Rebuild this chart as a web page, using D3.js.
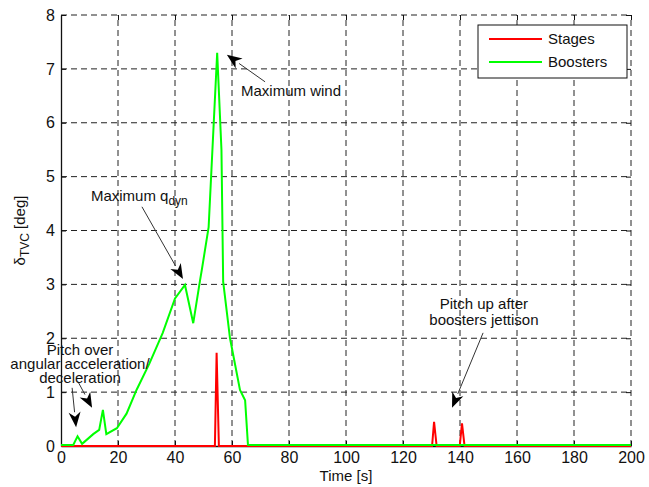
<!DOCTYPE html>
<html>
<head>
  <meta charset="utf-8"/>
  <script src="https://d3js.org/d3.v7.min.js"></script>
  <style>
    html, body { margin: 0; padding: 0; background: #fff; }
    svg { display: block; font-family: "Liberation Sans", Arial, sans-serif; }
    .grid line { stroke: #222; stroke-width: 1; stroke-dasharray: 6,4; }
    .tick-label { font-size: 16px; fill: #111; }
    .ann { font-size: 15px; fill: #111; }
  </style>
</head>
<body>
<div id="chart"></div>
<script>
// data (time in s, deflection in deg)
const boosterT = [0, 4.3, 5.8, 7.4, 11.3, 13.4, 14.7, 15.9, 19.6, 23, 26.5, 31, 35.7, 40, 43.5, 46.4, 48.8, 49.5, 51.8, 54.8, 56.3, 56.9, 59.3, 62.8, 64.6, 65.6, 200];
const boosterV = [0.02, 0.02, 0.18, 0.04, 0.22, 0.3, 0.67, 0.22, 0.33, 0.6, 1.04, 1.53, 2.1, 2.74, 2.99, 2.28, 3.08, 3.3, 4.06, 7.3, 5.5, 3.05, 2.0, 1.04, 0.85, 0.02, 0.02];

const stageT = [0, 54.0, 54.6, 55.4, 130.2, 130.9, 131.8, 139.9, 140.7, 141.6, 200];
const stageV = [0, 0, 1.73, 0, 0, 0.45, 0, 0, 0.42, 0, 0];

const xTicks = [0, 20, 40, 60, 80, 100, 120, 140, 160, 180, 200];
const yTicks = [0, 1, 2, 3, 4, 5, 6, 7, 8];

const seriesNames = ["Stages", "Boosters"];
const seriesColors = ["#ff0000", "#00ff00"];

// annotation arrows: [fromT, fromV, toT, toV]
const arrows = [
  [71.6, 6.76, 58.2, 7.26],
  [28.4, 4.44, 42.8, 3.10],
  [3.9, 1.08, 5.3, 0.35],
  [6.0, 1.19, 10.9, 0.71],
  [148.1, 2.10, 137.2, 0.71]
];

const width = 649, height = 487;
const margin = { left: 61, right: 18, top: 15, bottom: 41 };

const svg = d3.select("#chart").append("svg")
  .attr("width", width)
  .attr("height", height);

const x = d3.scaleLinear().domain([0, 200]).range([margin.left, width - margin.right]);
const y = d3.scaleLinear().domain([0, 8]).range([height - margin.bottom, margin.top]);

// dashed grid (also makes the top/right edges)
const grid = svg.append("g").attr("class", "grid");
grid.selectAll(".gx").data(xTicks.slice(1)).enter().append("line")
  .attr("x1", d => x(d)).attr("x2", d => x(d))
  .attr("y1", y(0)).attr("y2", y(8));
grid.selectAll(".gy").data(yTicks.slice(1)).enter().append("line")
  .attr("x1", x(0)).attr("x2", x(200))
  .attr("y1", d => y(d)).attr("y2", d => y(d));

// axes, ticks inside
const xAxis = svg.append("g")
  .attr("transform", `translate(0,${y(0)})`)
  .call(d3.axisBottom(x).tickValues(xTicks).tickSizeInner(-5).tickSizeOuter(0).tickPadding(6));
const yAxis = svg.append("g")
  .attr("transform", `translate(${x(0)},0)`)
  .call(d3.axisLeft(y).tickValues(yTicks).tickSizeInner(-5).tickSizeOuter(0).tickPadding(6));
[xAxis, yAxis].forEach(a => {
  a.select(".domain").attr("stroke", "#111").attr("stroke-width", 1.3);
  a.selectAll(".tick line").attr("stroke", "#111");
  a.selectAll(".tick text").attr("class", "tick-label").attr("font-size", null).attr("font-family", null);
});
// top / right inside ticks
svg.append("g").attr("transform", `translate(0,${y(8)})`)
  .call(d3.axisTop(x).tickValues(xTicks).tickSizeInner(-5).tickSizeOuter(0).tickFormat(""))
  .call(g => g.select(".domain").remove())
  .call(g => g.selectAll(".tick line").attr("stroke", "#111"));
svg.append("g").attr("transform", `translate(${x(200)},0)`)
  .call(d3.axisRight(y).tickValues(yTicks).tickSizeInner(-5).tickSizeOuter(0).tickFormat(""))
  .call(g => g.select(".domain").remove())
  .call(g => g.selectAll(".tick line").attr("stroke", "#111"));

// lines
const line = d3.line().x(d => x(d[0])).y(d => y(d[1]));
const stageData = d3.zip(stageT, stageV);
const boosterData = d3.zip(boosterT, boosterV);

svg.append("path").datum(stageData)
  .attr("d", line).attr("fill", "none")
  .attr("stroke", seriesColors[0]).attr("stroke-width", 2);
svg.append("path").datum(boosterData)
  .attr("d", line).attr("fill", "none")
  .attr("stroke", seriesColors[1]).attr("stroke-width", 2);

// axis titles
svg.append("text")
  .attr("x", (x(0) + x(200)) / 2).attr("y", 481)
  .attr("text-anchor", "middle").attr("class", "ann")
  .text("Time [s]");

const yl = svg.append("text")
  .attr("transform", `translate(25,${(y(0) + y(8)) / 2}) rotate(-90)`)
  .attr("text-anchor", "middle").attr("class", "ann");
yl.append("tspan").text("δ");
yl.append("tspan").attr("dy", 4).attr("font-size", 12).text("TVC");
yl.append("tspan").attr("dy", -4).text(" [deg]");

// legend
const lg = svg.append("g").attr("transform", "translate(478,25)");
lg.append("rect").attr("width", 149).attr("height", 53)
  .attr("fill", "#fff").attr("stroke", "#111").attr("stroke-width", 1);
seriesNames.forEach((name, i) => {
  const ly = 14 + i * 23;
  lg.append("line").attr("x1", 11).attr("x2", 64).attr("y1", ly).attr("y2", ly)
    .attr("stroke", seriesColors[i]).attr("stroke-width", 2);
  lg.append("text").attr("x", 70).attr("y", ly + 5).attr("class", "ann").text(name);
});

// arrows
function arrow(a) {
  const x1 = x(a[0]), y1 = y(a[1]), x2 = x(a[2]), y2 = y(a[3]);
  const ang = Math.atan2(y2 - y1, x2 - x1);
  const L = 15, W = 6;
  const bx = x2 - L * Math.cos(ang), by = y2 - L * Math.sin(ang);
  svg.append("line").attr("x1", x1).attr("y1", y1).attr("x2", bx).attr("y2", by)
    .attr("stroke", "#333").attr("stroke-width", 1);
  const px = -Math.sin(ang) * W, py = Math.cos(ang) * W;
  const nx = x2 - L * 0.7 * Math.cos(ang), ny = y2 - L * 0.7 * Math.sin(ang);
  svg.append("path")
    .attr("d", `M${x2},${y2}L${bx + px},${by + py}L${nx},${ny}L${bx - px},${by - py}Z`)
    .attr("fill", "#000");
}
arrows.forEach(arrow);

// annotation texts
svg.append("text").attr("x", x(80.7)).attr("y", y(6.59) + 5)
  .attr("text-anchor", "middle").attr("class", "ann").text("Maximum wind");

const q = svg.append("text").attr("x", x(10.5)).attr("y", y(4.64) + 5).attr("class", "ann");
q.append("tspan").text("Maximum q");
q.append("tspan").attr("dy", 4).attr("font-size", 12).text("dyn");

const pitchOver = ["Pitch over", "angular acceleration/", "deceleration"];
pitchOver.forEach((t, i) => {
  svg.append("text").attr("x", 80).attr("y", y(1.78) + 5 + i * 14)
    .attr("text-anchor", "middle").attr("class", "ann").text(t);
});

const pitchUp = ["Pitch up after", "boosters jettison"];
pitchUp.forEach((t, i) => {
  svg.append("text").attr("x", x(148.4)).attr("y", y(2.64) + 5 + i * 16)
    .attr("text-anchor", "middle").attr("class", "ann").text(t);
});
</script>
</body>
</html>
